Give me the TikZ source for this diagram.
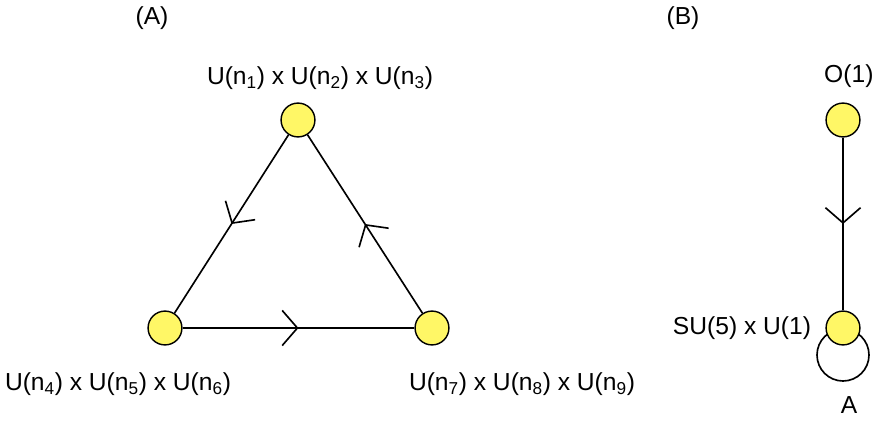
\documentclass[tikz,border=0pt]{standalone}
\usepackage{fontspec}
\setmainfont{Liberation Sans}
\usetikzlibrary{arrows.meta,decorations.markings}
\tikzset{
 vert/.style={circle,draw=black,fill=yellow!60,minimum size=34*0.85pt,inner sep=0pt,line width=1.2pt},
 lbl/.style={font=\fontsize{21}{25}\selectfont,inner sep=0pt},
 edge/.style={line width=1.4pt,postaction={decorate},decoration={markings,mark=at position 0.5 with {\arrow{Straight Barb[length=13pt,width=30pt,line width=1.4pt]}}}}
}
\begin{document}
\begin{tikzpicture}[x=0.03cm,y=-0.03cm]
\useasboundingbox (0,0) rectangle (872,421);
\draw[line width=1.4pt] (843,355) circle (26);
\node[vert] (t) at (298,120) {};
\node[vert] (l) at (165,328) {};
\node[vert] (r) at (432,328) {};
\node[vert] (bt) at (843,120) {};
\node[vert] (bb) at (843,328) {};
\draw[edge] (t) -- (l);
\draw[edge] (l) -- (r);
\draw[edge] (r) -- (t);
\draw[edge] (bt) -- (bb);
\node[lbl] (la) at (152,18) {(A)};
\node[lbl] (lb) at (683,18) {(B)};
\node[lbl] (lt) at (320,78) {U(n\textsubscript{1}) x U(n\textsubscript{2}) x U(n\textsubscript{3})};
\node[lbl] (ll) at (118,384) {U(n\textsubscript{4}) x U(n\textsubscript{5}) x U(n\textsubscript{6})};
\node[lbl] (lr) at (522,384) {U(n\textsubscript{7}) x U(n\textsubscript{8}) x U(n\textsubscript{9})};
\node[lbl,anchor=west] (lo) at (824,76) {O(1)};
\node[lbl] (ls) at (742,328) {SU(5) x U(1)};
\node[lbl] (lA) at (849,405) {A};
\end{tikzpicture}
\end{document}
